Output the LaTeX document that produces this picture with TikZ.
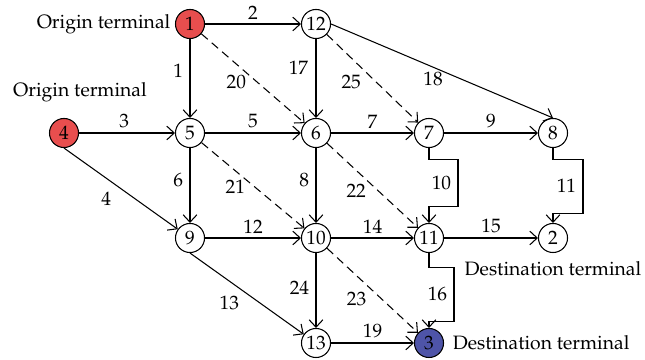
\documentclass[tikz,border=0pt]{standalone}
\usepackage[T1]{fontenc}
\usepackage{mathpazo}
\usetikzlibrary{arrows.meta,positioning}

\definecolor{originred}{RGB}{232,78,78}
\definecolor{destblue}{RGB}{78,84,168}

\begin{document}
\begin{tikzpicture}[x=0.167mm,y=-0.167mm,font=\fontsize{9.2}{11}\selectfont,
    stop/.style={circle,draw,line width=0.5pt,minimum size=13.8pt,inner sep=0pt},
    link/.style={-{Straight Barb[length=3.5pt,width=6.5pt]},line width=0.5pt},
    extra/.style={link,dash pattern=on 4pt off 2.5pt},
    num/.style={inner sep=2pt}]
  \useasboundingbox (0,0) rectangle (645,360);
  % stops
  \node[stop,fill=originred] (n1) at (190,24) {1};
  \node[stop] (n12) at (316,24) {12};
  \node[stop,fill=originred] (n4) at (64,133) {4};
  \node[stop] (n5) at (190,133) {5};
  \node[stop] (n6) at (316,133) {6};
  \node[stop] (n7) at (429,133) {7};
  \node[stop] (n8) at (553,133) {8};
  \node[stop] (n9) at (190,238) {9};
  \node[stop] (n10) at (316,238) {10};
  \node[stop] (n11) at (429,238) {11};
  \node[stop] (n2) at (553,238) {2};
  \node[stop] (n13) at (316,343) {13};
  \node[stop,fill=destblue] (n3) at (429,343) {3};
  % terminals
  \node[left=0pt of n1,inner sep=2pt] (orig1) {Origin terminal};
  \node[inner sep=0pt] (orig4) at (80,92) {Origin terminal};
  \node[right=2pt of n3,inner sep=2pt] (dest3) {Destination terminal};
  \node[below=2pt of n2,inner sep=2pt] (dest2) {Destination terminal};
  % links
  \draw[link] (n1) -- node[num,above] {2} (n12);
  \draw[link] (n1) -- node[num,left=1pt,pos=0.4] {1} (n5);
  \draw[extra] (n1) -- node[num,left=3pt,pos=0.54] {20} (n6);
  \draw[link] (n12) -- node[num,left=1.5pt,pos=0.37] {17} (n6);
  \draw[extra] (n12) -- node[num,left=5pt,pos=0.54] {25} (n7);
  \draw[link] (n12.east) -- node[num,below,pos=0.46] {18} (n8.north);
  \draw[link] (n4) -- node[num,above,pos=0.47] {3} (n5);
  \draw[link] (n4.south) -- node[num,left=9.5pt,pos=0.63] {4} (n9);
  \draw[link] (n5) -- node[num,above] {5} (n6);
  \draw[link] (n5) -- node[num,left=1pt,pos=0.43] {6} (n9);
  \draw[extra] (n5) -- node[num,left=2.5pt,pos=0.52] {21} (n10);
  \draw[link] (n6) -- node[num,above] {7} (n7);
  \draw[link] (n6) -- node[num,left=1pt,pos=0.43] {8} (n10);
  \draw[extra] (n6) -- node[num,left=3.5pt,pos=0.56] {22} (n11);
  \draw[link] (n7) -- node[num,above] {9} (n8);
  \draw[link] (n7.south) -- ++(0,11) -- ++(29,0) -- node[num,left=1pt] {10} ++(0,47) -- ++(-29,0) -- (n11.north);
  \draw[link] (n8.south) -- ++(0,11) -- ++(30,0) -- node[num,left=1pt] {11} ++(0,54) -- ++(-30,0) -- (n2.north);
  \draw[link] (n9) -- node[num,above] {12} (n10);
  \draw[link] (n9.south) -- node[num,left=8pt,pos=0.62] {13} (n13);
  \draw[link] (n10) -- node[num,above] {14} (n11);
  \draw[link] (n10) -- node[num,left=1pt,pos=0.47] {24} (n13);
  \draw[extra] (n10) -- node[num,left=5pt,pos=0.6] {23} (n3);
  \draw[link] (n11) -- node[num,above] {15} (n2);
  \draw[link] (n11.south) -- ++(0,14) -- ++(25,0) -- node[num,left=1pt] {16} ++(0,54) -- ++(-25,0) -- (n3.north);
  \draw[link] (n13) -- node[num,above] {19} (n3);
\end{tikzpicture}
\end{document}
